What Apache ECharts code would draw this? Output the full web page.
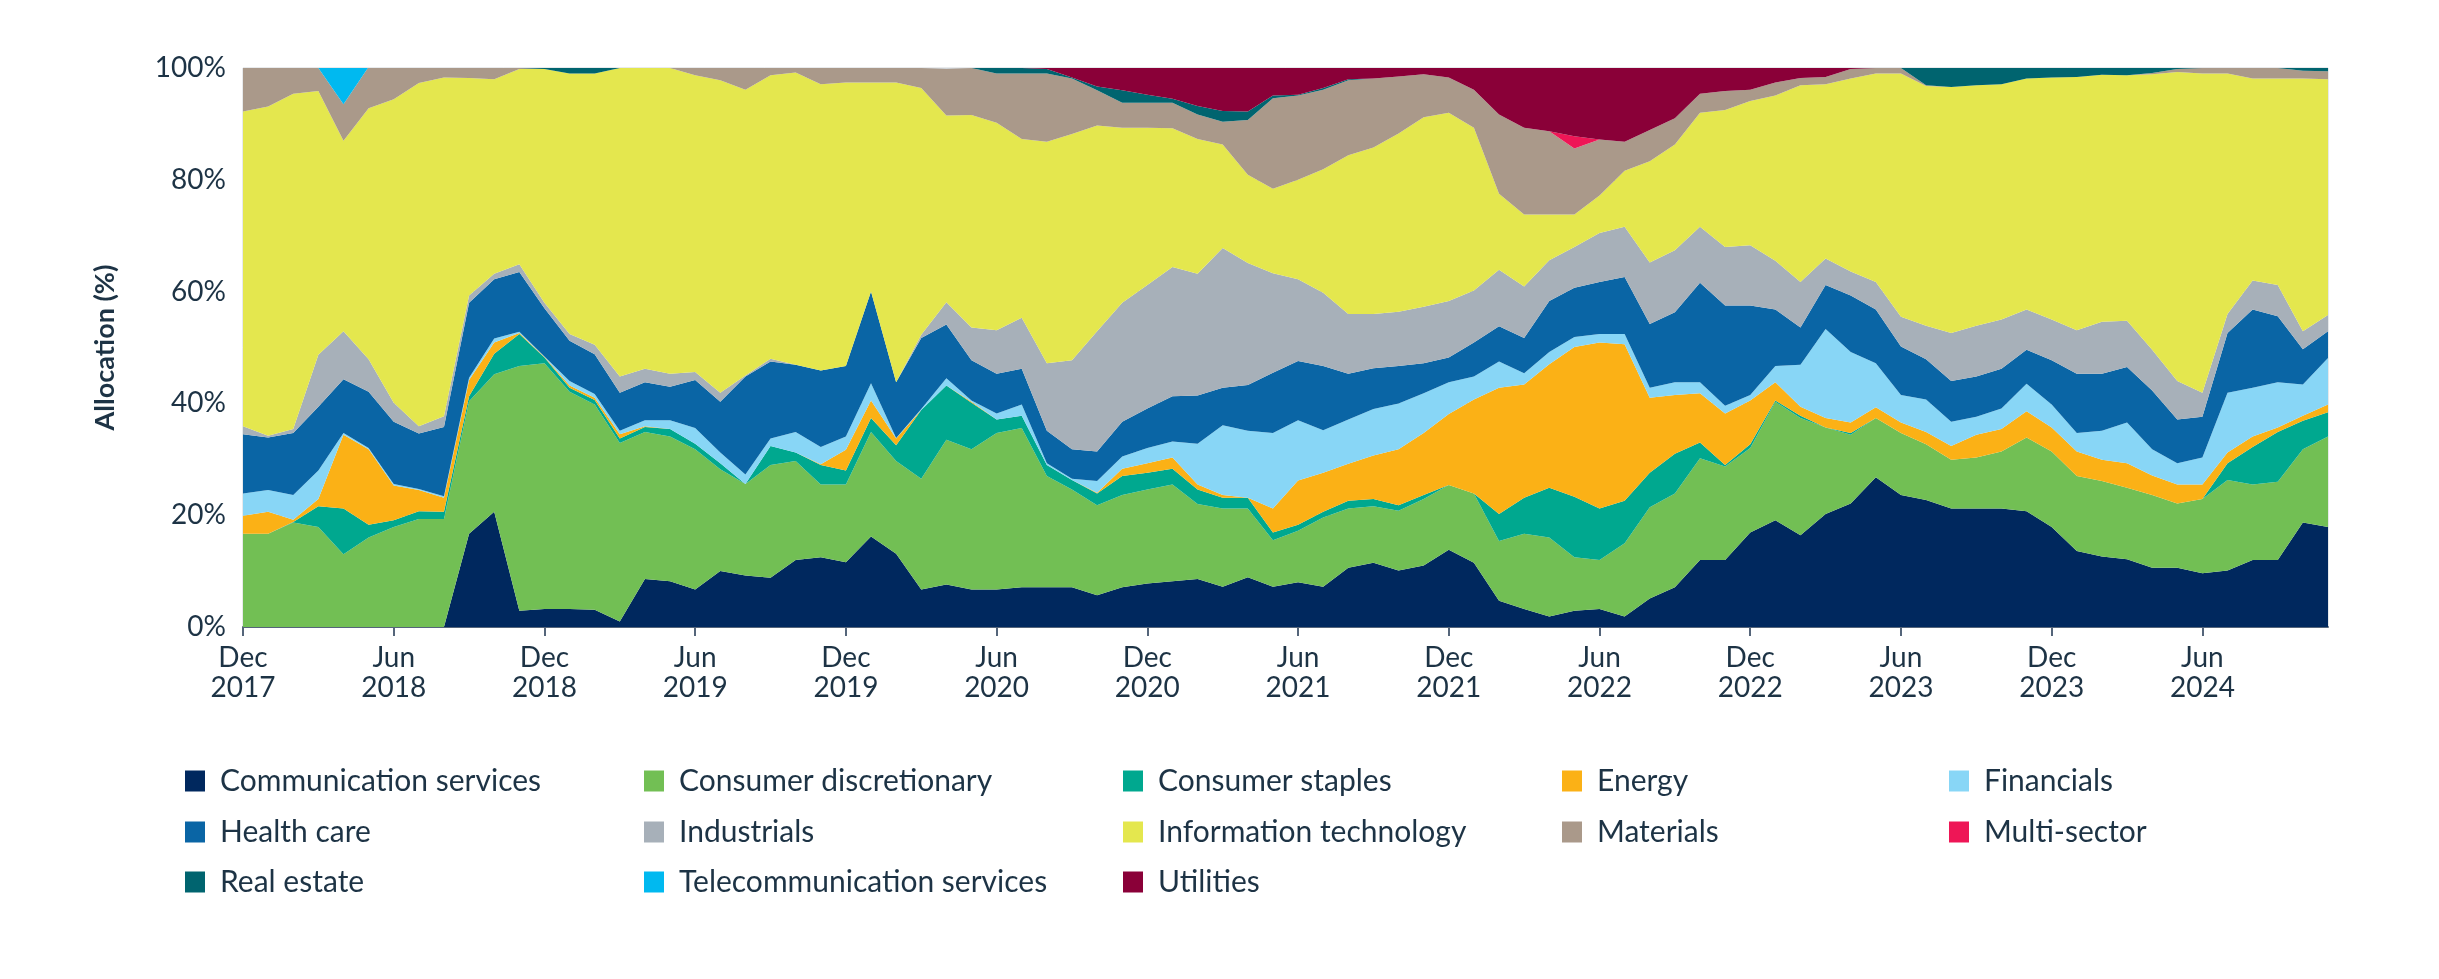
<!DOCTYPE html>
<html><head><meta charset="utf-8">
<script src="https://cdn.jsdelivr.net/npm/echarts@6/dist/echarts.min.js"></script>
<style>html,body{margin:0;padding:0;background:#fff}#c{width:2439px;height:979px}</style>
</head><body><div id="c"></div>
<script>
const months = ['Dec 2017','Jan 2018','Feb 2018','Mar 2018','Apr 2018','May 2018','Jun 2018','Jul 2018','Aug 2018','Sep 2018','Oct 2018','Nov 2018',
'Dec 2018','Jan 2019','Feb 2019','Mar 2019','Apr 2019','May 2019','Jun 2019','Jul 2019','Aug 2019','Sep 2019','Oct 2019','Nov 2019',
'Dec 2019','Jan 2020','Feb 2020','Mar 2020','Apr 2020','May 2020','Jun 2020','Jul 2020','Aug 2020','Sep 2020','Oct 2020','Nov 2020',
'Dec 2020','Jan 2021','Feb 2021','Mar 2021','Apr 2021','May 2021','Jun 2021','Jul 2021','Aug 2021','Sep 2021','Oct 2021','Nov 2021',
'Dec 2021','Jan 2022','Feb 2022','Mar 2022','Apr 2022','May 2022','Jun 2022','Jul 2022','Aug 2022','Sep 2022','Oct 2022','Nov 2022',
'Dec 2022','Jan 2023','Feb 2023','Mar 2023','Apr 2023','May 2023','Jun 2023','Jul 2023','Aug 2023','Sep 2023','Oct 2023','Nov 2023',
'Dec 2023','Jan 2024','Feb 2024','Mar 2024','Apr 2024','May 2024','Jun 2024','Jul 2024','Aug 2024','Sep 2024','Oct 2024','Nov 2024'];

const yTicks = [0, 20, 40, 60, 80, 100];

const commServices = [0,0,0,0,0,0,0,0,0,16.7,20.6,2.9,3.2,3.2,3.1,1.0,8.6,8.2,6.7,10.0,9.2,8.8,12.0,12.5,11.6,16.2,13.1,6.7,7.6,6.7,6.7,7.1,7.1,7.1,5.7,7.1,7.8,8.2,8.6,7.2,8.9,7.2,8.0,7.2,10.6,11.5,10.1,11.0,13.8,11.5,4.7,3.2,1.9,2.9,3.2,1.9,5.1,7.1,12.0,12.0,16.9,19.1,16.4,20.2,22.1,26.8,23.6,22.7,21.2,21.2,21.2,20.7,17.9,13.6,12.6,12.1,10.6,10.6,9.6,10.1,12.0,12.0,18.7,17.9];
const consDiscretionary = [16.7,16.7,18.7,17.9,13.0,16.0,17.9,19.3,19.3,23.7,24.6,43.8,44.0,38.9,36.7,31.9,26.3,25.9,25.1,18.2,16.4,20.2,17.7,13.0,13.9,18.7,16.6,19.8,25.9,25.1,28.0,28.5,19.9,17.5,16.1,16.5,16.8,17.3,13.4,14.0,12.3,8.3,9.2,12.4,10.6,10.1,10.7,11.9,11.6,12.4,10.7,13.5,14.1,9.6,8.8,13.1,16.3,16.8,18.2,16.7,15.1,21.2,21.0,15.5,12.3,10.6,11.1,10.0,8.7,9.1,10.2,13.2,13.5,13.4,13.5,12.8,13.0,11.5,13.3,16.2,13.5,14.0,13.1,16.2];
const consStaples = [0,0,0.1,3.7,8.2,2.3,1.2,1.4,1.3,0.9,3.7,5.7,1.0,0.7,0.8,0.8,0.9,1.3,1.0,1.1,0,3.4,1.5,3.5,2.5,2.5,2.8,12.3,9.7,8.3,2.4,2.2,2.0,1.7,2.1,3.4,3.0,2.8,2.6,1.9,1.9,1.4,1.1,1.0,1.4,1.3,1.0,0.7,0,0,4.8,6.4,8.9,10.8,9.2,7.6,6.2,7.1,2.8,0.3,0.7,0.2,0.4,0,0.3,0,0,0,0,0,0,0,0,0,0,0,0,0,0,3.0,6.7,8.9,5.1,4.3];
const energy = [3.2,3.9,0.4,1.3,13.2,13.5,6.2,3.8,2.5,2.9,2.0,0.2,0.1,0.4,0.4,0.8,0.1,0,0,0,0,0,0,0.1,3.7,3.1,1.2,0,0,0.2,0,0,0,0,0.1,1.3,1.7,2.0,0.9,0.5,0,4.3,7.9,7.0,6.6,7.8,10.0,11.1,12.7,16.8,22.6,20.3,22.1,26.8,29.7,28.0,13.4,10.5,8.8,9.2,7.8,3.3,1.6,1.7,1.9,1.9,1.9,2.2,2.5,4.1,4.0,4.7,4.3,4.4,3.8,4.4,3.5,3.4,2.6,1.9,1.9,0.8,0.9,1.4];
const financials = [4.0,3.9,4.4,5.1,0.3,0.2,0.3,0.2,0.3,0.4,0.7,0.2,0.1,0.8,0.7,0.6,1.1,1.6,2.8,1.9,1.7,1.3,3.7,3.1,2.4,3.1,0.1,0.2,1.3,0.2,1.1,2.0,0.3,0.2,2.1,2.2,2.7,2.9,7.3,12.5,12.0,13.5,10.8,7.6,7.9,8.3,8.2,7.1,5.7,4.1,4.7,2.0,2.2,1.8,1.5,1.8,1.8,2.3,2.0,1.4,1.0,2.9,7.5,15.9,12.6,7.9,4.9,5.8,4.3,3.2,3.7,4.9,4.1,3.3,5.2,7.3,4.7,3.8,4.8,10.7,8.7,8.1,5.6,8.3];
const healthCare = [10.6,9.4,11.1,11.4,9.6,10.1,11.1,9.9,12.4,13.4,10.6,10.7,8.6,7.2,7.1,6.8,6.8,6.0,8.6,9.1,17.5,13.8,12.0,13.7,12.6,16.4,10.0,12.7,9.6,7.2,7.1,6.4,5.8,5.3,5.3,6.2,7.1,8.1,8.6,6.7,8.2,10.8,10.6,11.5,8.2,7.3,6.7,5.4,4.4,6.1,6.3,6.3,9.1,8.8,9.3,10.2,11.4,12.5,17.8,17.9,16.0,10.1,6.7,7.9,10.1,9.6,8.7,7.2,7.3,7.2,7.1,6.1,7.9,10.6,10.2,9.9,10.5,7.8,7.3,10.7,14.0,11.8,6.3,4.8];
const industrials = [1.4,0.3,0.7,9.3,8.6,5.8,3.4,1.3,1.9,1.3,1.0,1.4,1.0,1.2,1.7,2.9,2.4,2.3,1.4,1.6,0.2,0.5,0,0,0,0,0,0.6,4.0,5.9,7.8,9.1,12.1,15.9,21.5,21.3,22.1,23.1,21.8,25.0,21.8,17.8,14.6,13.1,10.7,9.7,9.7,10.1,10.1,9.3,10.1,9.2,7.3,7.3,8.8,9.0,11.0,11.1,10.0,10.5,10.8,8.7,8.1,4.7,4.3,4.9,5.3,6.0,8.6,9.1,8.8,7.2,7.3,7.8,9.3,8.3,7.3,6.9,4.3,3.4,5.2,5.6,3.2,2.9];
const infoTech = [56.3,58.9,60.0,47.2,34.1,44.9,54.3,61.4,60.6,38.9,34.8,34.9,41.8,46.6,48.5,55.2,53.8,54.7,53.1,55.9,51.1,50.7,52.3,51.2,50.7,37.4,53.6,44.1,33.4,38.0,37.1,32.0,39.6,40.5,36.8,31.3,28.1,24.8,24.1,18.5,15.8,15.1,17.8,22.1,28.4,29.8,31.9,33.9,33.7,29.1,13.6,12.9,8.2,5.8,6.7,10.0,18.1,18.9,20.4,24.5,25.8,29.6,35.2,31.2,34.5,37.3,43.5,42.9,44.0,43.0,42.1,41.3,43.3,45.3,44.2,43.9,49.3,55.3,57.1,43.0,36.1,36.9,45.2,42.2];
const materials = [7.8,6.9,4.6,4.1,6.5,7.4,5.6,2.9,2.0,1.8,2.0,0.2,0,0,0,0,0,0.1,1.3,2.2,3.9,1.3,0.8,2.9,2.6,2.6,2.6,3.6,8.3,8.4,8.8,11.7,12.2,9.9,6.3,4.5,4.5,4.6,4.4,4.1,9.8,16.2,15.1,14.2,13.4,12.3,10.2,7.7,6.3,6.8,14.2,15.5,14.9,11.8,10.0,5.2,5.6,4.7,3.4,3.4,2.0,2.3,1.3,1.3,1.7,1.0,1.0,0.1,0,0,0,0,0,0,0,0,0.2,0.5,1.0,1.0,1.9,1.9,1.4,1.4];
const multiSector = [0,0,0,0,0,0,0,0,0,0,0,0,0,0,0,0,0,0,0,0,0,0,0,0,0,0,0,0,0,0,0,0,0,0,0,0,0,0,0,0,0,0,0,0,0,0,0,0,0,0,0,0,0,2.2,0,0,0,0,0,0,0,0,0,0,0,0,0,0,0,0,0,0,0,0,0,0,0,0,0,0,0,0,0,0];
const realEstate = [0,0,0,0,0,0,0,0,0,0,0,0,0.2,1.0,1.0,0,0,0,0,0,0,0,0,0,0,0,0,0,0,0,1.0,1.0,0.8,0.2,0.7,2.2,1.4,0.7,1.5,1.9,1.5,0.5,0.1,0.3,0.2,0,0,0,0,0,0,0,0,0,0,0,0,0,0,0,0,0,0,0,0,0,0,3.1,3.4,3.1,2.9,1.9,1.7,1.6,1.2,1.3,0.9,0.2,0,0,0,0,0.5,0.6];
const telecom = [0,0,0,0,6.5,0,0,0,0,0,0,0,0,0,0,0,0,0,0,0,0,0,0,0,0,0,0,0,0,0,0,0,0,0,0,0,0,0,0,0,0,0,0,0,0,0,0,0,0,0,0,0,0,0,0,0,0,0,0,0,0,0,0,0,0,0,0,0,0,0,0,0,0,0,0,0,0,0,0,0,0,0,0,0];
const utilities = [0,0,0,0,0,0,0,0,0,0,0,0,0,0,0,0,0,0,0,0,0,0,0,0,0,0,0,0,0,0,0,0,0.2,1.7,3.3,4.0,4.8,5.5,6.8,7.7,7.8,4.9,4.8,3.6,2.0,1.9,1.5,1.1,1.7,3.9,8.3,10.7,11.3,12.2,12.8,13.2,11.1,9.0,4.6,4.1,3.9,2.6,1.8,1.6,0.2,0,0,0,0,0,0,0,0,0,0,0,0,0,0,0,0,0,0,0];

const seriesNames = ['Communication services','Consumer discretionary','Consumer staples','Energy','Financials','Health care','Industrials','Information technology','Materials','Multi-sector','Real estate','Telecommunication services','Utilities'];
const seriesData = [commServices,consDiscretionary,consStaples,energy,financials,healthCare,industrials,infoTech,materials,multiSector,realEstate,telecom,utilities];
const seriesColors = ['#00285e','#72bf54','#00a88f','#fbb116','#88d6f6','#0a65a5','#a7b0b9','#e4e74e','#aa998a','#ee1656','#00646f','#00b9f0','#8a0038'];

const TEXT = '#1d3345';
const FONT = 'Lato';

// legend grid (5 columns x 3 rows, filled row-wise)
const legendCols = [180, 639, 1118, 1557, 1944];
const legendRows = [761, 812, 862];
const legends = seriesNames.map((n, k) => ({
  left: legendCols[k % 5], top: legendRows[Math.floor(k / 5)],
  data: [n], icon: 'rect', itemWidth: 20, itemHeight: 21, itemGap: 0,
  selectedMode: false,
  textStyle: { color: TEXT, fontSize: 30, fontFamily: FONT, padding: [0, 0, 0, 10] }
}));

const isTick = (idx, val) => /^(Dec|Jun)/.test(val);

const chart = echarts.init(document.getElementById('c'), null, { renderer: 'canvas' });
chart.setOption({
  animation: false,
  backgroundColor: '#fff',
  textStyle: { fontFamily: FONT },
  grid: { left: 243, right: 111, top: 68, bottom: 352, containLabel: false,
          show: true, borderColor: '#d0d4d8', borderWidth: 1 },
  legend: legends,
  xAxis: {
    type: 'category', data: months, boundaryGap: false,
    axisLine: { show: true, lineStyle: { color: '#55657a', width: 2 } },
    axisTick: { show: true, interval: isTick, length: 9, lineStyle: { color: '#55657a', width: 2 } },
    axisLabel: { interval: isTick, color: TEXT, fontSize: 28, fontFamily: FONT, lineHeight: 30, margin: 16,
                 formatter: v => v.replace(' ', '\n') },
    splitLine: { show: false }
  },
  yAxis: {
    type: 'value', min: yTicks[0], max: yTicks[yTicks.length - 1], interval: 20,
    name: 'Allocation (%)', nameLocation: 'middle', nameGap: 124,
    nameTextStyle: { color: TEXT, fontSize: 27, fontWeight: 'bold', fontFamily: FONT },
    axisLine: { show: false }, axisTick: { show: false },
    axisLabel: { color: TEXT, fontSize: 28, fontFamily: FONT, margin: 17, formatter: '{value}%' },
    splitLine: { show: true, lineStyle: { color: '#d0d4d8', width: 1 } }
  },
  series: seriesNames.map((n, k) => ({
    name: n, type: 'line', stack: 'total', data: seriesData[k],
    symbol: 'none', smooth: false,
    lineStyle: { width: 0 },
    itemStyle: { color: seriesColors[k] },
    areaStyle: { color: seriesColors[k], opacity: 1 },
    emphasis: { disabled: true }
  }))
});
</script></body></html>
